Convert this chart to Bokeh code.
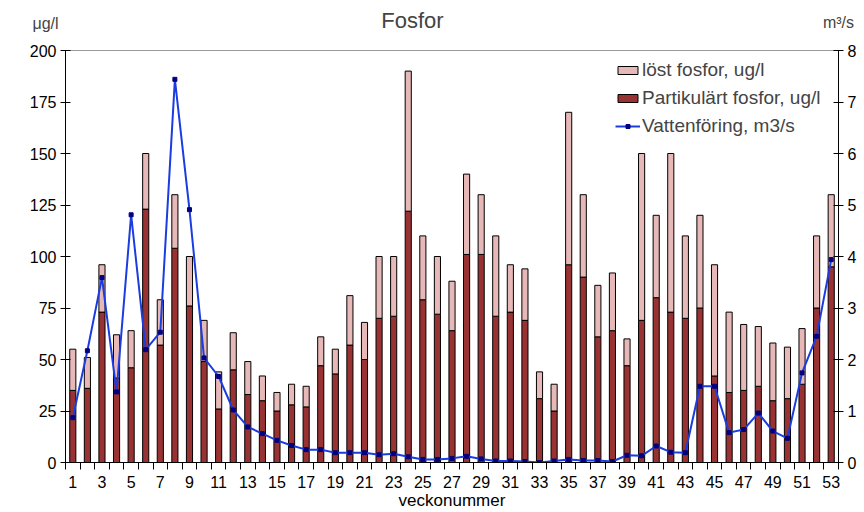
from bokeh.plotting import figure
from bokeh.models import Range1d, LinearAxis, FixedTicker, Legend, LegendItem, Label, ColumnDataSource
from bokeh.embed import file_html
from bokeh.resources import INLINE

weeks = list(range(1, 54))
partikulart = [35, 36, 73, 41, 46, 123, 57, 104, 76, 49, 26, 45, 33, 30, 25, 28, 27, 47, 43, 57,
               50, 70, 71, 122, 79, 72, 64, 101, 101, 71, 73, 69, 31, 25, 96, 90, 61, 64, 47, 69,
               80, 73, 70, 75, 42, 34, 35, 37, 30, 31, 38, 75, 95]
lost = [20, 15, 23, 21, 18, 27, 22, 26, 24, 20, 18, 18, 16, 12, 9, 10, 10, 14, 12, 24,
        18, 30, 29, 68, 31, 28, 24, 39, 29, 39, 23, 25, 13, 13, 74, 40, 25, 28, 13, 81,
        40, 77, 40, 45, 54, 39, 32, 29, 28, 25, 27, 35, 35]
vattenforing = [0.87, 2.17, 3.59, 1.37, 4.81, 2.19, 2.53, 7.44, 4.91, 2.03, 1.67, 1.02, 0.69, 0.56,
                0.43, 0.33, 0.25, 0.25, 0.19, 0.19, 0.19, 0.15, 0.17, 0.11, 0.06, 0.06, 0.08, 0.12,
                0.07, 0.03, 0.03, 0.02, 0.0, 0.03, 0.06, 0.04, 0.04, 0.02, 0.14, 0.13, 0.32, 0.20,
                0.19, 1.48, 1.48, 0.58, 0.64, 0.96, 0.61, 0.47, 1.74, 2.45, 3.94]
tick_weeks = list(range(1, 54, 2))

total = [a + b for a, b in zip(partikulart, lost)]
src = ColumnDataSource(dict(week=weeks, part=partikulart, total=total, flow=vattenforing))

FONT = "Liberation Sans"

p = figure(width=864, height=512, x_range=Range1d(0.5, 53.5), y_range=Range1d(0, 200),
           output_backend="svg", toolbar_location=None,
           min_border_left=65, min_border_right=26, min_border_top=50, min_border_bottom=50)
p.extra_y_ranges = {"flow": Range1d(0, 8)}

p.xgrid.visible = False
p.ygrid.visible = False
p.outline_line_color = "#999999"
p.background_fill_color = "white"

r_part = p.vbar(x="week", width=0.42, bottom=0, top="part", source=src,
                fill_color="#993333", line_color="black", line_width=1)
r_lost = p.vbar(x="week", width=0.42, bottom="part", top="total", source=src,
                fill_color="#E6B9B8", line_color="black", line_width=1)
r_line = p.line(x="week", y="flow", source=src, y_range_name="flow",
                line_color="#1A3CE0", line_width=2)
r_pts = p.scatter(x="week", y="flow", source=src, y_range_name="flow",
                  marker="square", size=4, fill_color="#000080", line_color="#000080")

# axes
xa = p.xaxis[0]
xa.ticker = FixedTicker(ticks=tick_weeks, minor_ticks=[w + 0.5 for w in range(0, 54)])
xa.major_tick_in = 0
xa.major_tick_out = 0
xa.minor_tick_in = 0
xa.minor_tick_out = 7
xa.minor_tick_line_color = "black"
xa.axis_line_color = "black"
xa.major_label_text_font = FONT
xa.major_label_text_font_size = "16px"
xa.major_label_text_color = "black"
xa.major_label_standoff = 6
xa.axis_label = "veckonummer"
xa.axis_label_text_font = FONT
xa.axis_label_text_font_size = "17px"
xa.axis_label_text_font_style = "normal"
xa.axis_label_text_color = "black"
xa.axis_label_standoff = 0

ya = p.yaxis[0]
ya.ticker = FixedTicker(ticks=[0, 25, 50, 75, 100, 125, 150, 175, 200])
ya.major_tick_in = 5
ya.major_tick_out = 5
ya.minor_tick_out = 0
ya.minor_tick_in = 0
ya.axis_line_color = "black"
ya.major_label_text_font = FONT
ya.major_label_text_font_size = "16px"
ya.major_label_text_color = "black"
ya.major_label_standoff = 4

ra = LinearAxis(y_range_name="flow", ticker=FixedTicker(ticks=list(range(0, 9))))
ra.major_tick_in = 5
ra.major_tick_out = 5
ra.minor_tick_in = 0
ra.minor_tick_out = 0
ra.axis_line_color = "black"
ra.major_label_text_font = FONT
ra.major_label_text_font_size = "16px"
ra.major_label_text_color = "black"
ra.major_label_standoff = 4
p.add_layout(ra, "right")

legend = Legend(items=[
    LegendItem(label="löst fosfor, ug/l", renderers=[r_lost]),
    LegendItem(label="Partikulärt fosfor, ug/l", renderers=[r_part]),
    LegendItem(label="Vattenföring, m3/s", renderers=[r_line, r_pts]),
], location=(546, 321))
legend.label_text_font = FONT
legend.label_text_font_size = "19px"
legend.glyph_width = 25
legend.glyph_height = 10
legend.label_standoff = 2
legend.label_height = 20
legend.spacing = 6
legend.padding = 4
legend.margin = 0
legend.background_fill_alpha = 0
legend.border_line_alpha = 0
p.add_layout(legend)

# texts outside the frame, placed in side panels (coordinates relative to each panel)
p.add_layout(Label(x=347, y=30, x_units="screen", y_units="screen", text="Fosfor",
                   text_font=FONT, text_font_size="22px", text_align="center",
                   text_baseline="middle"), "above")
p.add_layout(Label(x=773, y=3, x_units="screen", y_units="screen", text="m³/s",
                   text_font=FONT, text_font_size="16px", text_align="center",
                   text_baseline="middle"), "above")
p.add_layout(Label(x=45, y=439, x_units="screen", y_units="screen", text="μg/l",
                   text_font=FONT, text_font_size="16px", text_align="center",
                   text_baseline="middle"), "left")

open("out.html", "w").write(file_html(p, INLINE))
